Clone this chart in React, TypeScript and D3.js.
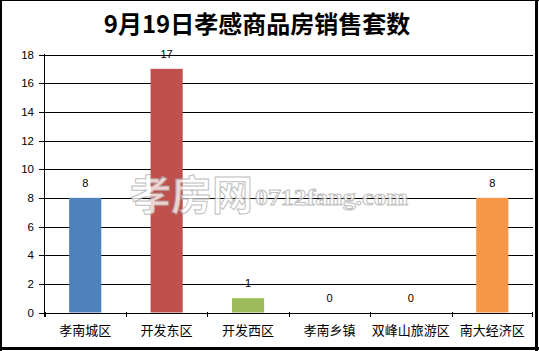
import React from "react";
import * as d3 from "d3";

const title = "9月19日孝感商品房销售套数";
const categories = ["孝南城区", "开发东区", "开发西区", "孝南乡镇", "双峰山旅游区", "南大经济区"];
const values = [8, 17, 1, 0, 0, 8];
const colors = ["#4F81BD", "#C0504D", "#9BBB59", "#8064A2", "#4BACC6", "#F79646"];
const yTicks = [0, 2, 4, 6, 8, 10, 12, 14, 16, 18];
const watermarkCn = "孝房网";
const watermarkEn = "0712fang.com";

const W = 539;
const H = 351;

export default function App() {
  const x = d3.scaleBand<string>().domain(categories).range([44.5, 533]).paddingInner(0).paddingOuter(0);
  const y = d3.scaleLinear().domain([0, 18]).range([312.5, 54.5]);
  const bw = x.bandwidth() * 0.395;
  const numFont = "'Liberation Sans', Arial, sans-serif";
  const cjkFont = "'Noto Sans CJK SC', 'Noto Sans', sans-serif";

  return (
    <svg width={W} height={H} style={{ position: "absolute", left: 0, top: 0, background: "#fff" }}>
      <rect x={0} y={0} width={W} height={H} fill="#fff" />
      {/* frame */}
      <line x1={1} y1={0} x2={1} y2={H} stroke="#000" strokeWidth={2} />
      <line x1={0} y1={0.5} x2={W} y2={0.5} stroke="#000" strokeWidth={1} />
      <line x1={536.5} y1={0} x2={536.5} y2={H} stroke="#000" strokeWidth={3} />
      <line x1={0} y1={348.5} x2={W} y2={348.5} stroke="#000" strokeWidth={3} />

      {/* title */}
      <text x={257} y={33} textAnchor="middle" fontFamily={cjkFont} fontWeight={700} fontSize={24} fill="#000">
        {title}
      </text>

      {/* gridlines & y ticks */}
      {yTicks.map((t) => (
        <g key={t}>
          <line x1={39} x2={533} y1={Math.round(y(t)) + 0.5 - 0.5} y2={Math.round(y(t)) + 0.5 - 0.5} stroke="#000" strokeWidth={1} shapeRendering="crispEdges" />
          <text x={34} y={y(t) + 4} textAnchor="end" fontFamily={numFont} fontSize={11.5} fill="#000">
            {t}
          </text>
        </g>
      ))}

      {/* y axis */}
      <line x1={44.5} x2={44.5} y1={54} y2={317} stroke="#000" strokeWidth={1} shapeRendering="crispEdges" />

      {/* bars */}
      {categories.map((c, i) => {
        const cx = (x(c) as number) + x.bandwidth() / 2;
        const top = y(values[i]);
        return (
          <g key={c}>
            {values[i] > 0 && (
              <rect x={cx - bw / 2} y={top} width={bw} height={y(0) - top} fill={colors[i]} />
            )}
            <text x={cx} y={top - 11} textAnchor="middle" fontFamily={numFont} fontSize={11} fill="#000">
              {values[i]}
            </text>
          </g>
        );
      })}

      {/* x axis ticks */}
      {categories.map((c) => (
        <line key={"t" + c} x1={Math.round(x(c) as number) + 0.5} x2={Math.round(x(c) as number) + 0.5} y1={312} y2={317} stroke="#000" strokeWidth={1} shapeRendering="crispEdges" />
      ))}
      <line x1={532.5} x2={532.5} y1={312} y2={317} stroke="#000" strokeWidth={1} shapeRendering="crispEdges" />

      {/* category labels */}
      {categories.map((c) => (
        <text key={"l" + c} x={(x(c) as number) + x.bandwidth() / 2} y={334.5} textAnchor="middle" fontFamily={cjkFont} fontSize={13} fill="#000">
          {c}
        </text>
      ))}

      {/* watermark */}
      <g opacity={0.75}>
        <text x={130} y={210} fontFamily={cjkFont} fontSize={41} fontWeight={700} fill="#fff" stroke="#aaa" strokeWidth={1}>
          {watermarkCn}
        </text>
        <text x={255} y={205} fontFamily="'Liberation Serif', serif" fontSize={24} fontWeight={700} fill="#fff" stroke="#aaa" strokeWidth={1} textLength={153} lengthAdjust="spacingAndGlyphs">
          {watermarkEn}
        </text>
      </g>
    </svg>
  );
}
